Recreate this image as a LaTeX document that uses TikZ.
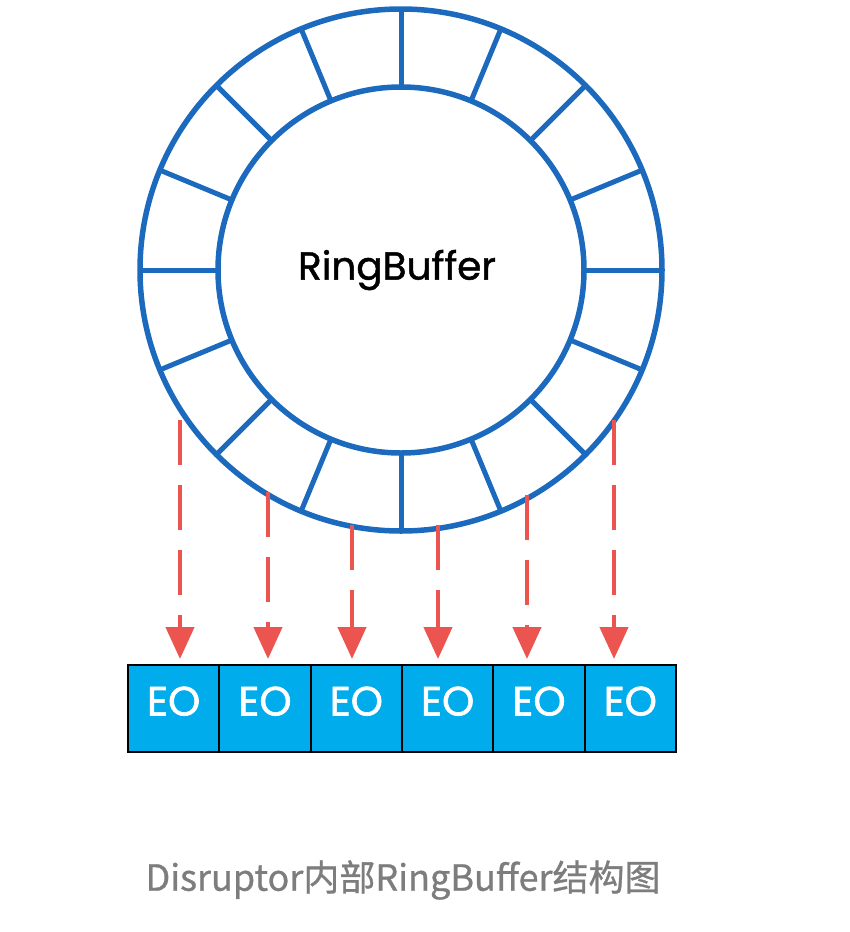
\documentclass[tikz,border=0pt]{standalone}
\usepackage{fontspec}
\setmainfont{Poppins}
\newfontfamily\cjk[FakeBold=0.8]{Noto Sans CJK SC}
\newfontfamily\eofont[FakeBold=1.5]{Poppins}
\newfontfamily\ringfont[FakeBold=1.2]{Poppins}
\usetikzlibrary{arrows.meta,calc}
\definecolor{ringblue}{RGB}{28,106,190}
\definecolor{arrred}{RGB}{236,84,80}
\definecolor{eocyan}{RGB}{0,172,236}
\definecolor{capgray}{RGB}{125,125,125}
\tikzset{
  ringline/.style={draw=ringblue,line width=5.5pt},
  eobox/.style={draw=black,line width=2pt,fill=eocyan,minimum width=91.33pt,minimum height=87pt,inner sep=0pt,text=white,font=\eofont\fontsize{41}{44}\selectfont,text height=14pt,text depth=0pt},
  dasharrow/.style={draw=arrred,line width=4.5pt,dash pattern=on 45pt off 20pt,-{Triangle[length=32pt,width=28pt]},shorten >=5pt}
}
\begin{document}
\begin{tikzpicture}[x=1pt,y=-1pt]
\useasboundingbox (0,0) rectangle (850,932);
\coordinate (c) at (401,270);
\draw[ringline] (c) circle[radius=261];
\draw[ringline] (c) circle[radius=183];
\foreach \k in {0,...,15}{
  \draw[ringline,line width=5pt] ($(c)+({\k*22.5}:183)$) -- ($(c)+({\k*22.5}:261)$);
}
\node[font=\ringfont\fontsize{39}{42}\selectfont,text=black] (title) at (397,270) {RingBuffer};
\foreach \i in {1,...,6}{
  \node[eobox] (eo\i) at ({128+91.33*(\i-0.5)},708.5) {EO};
}
\coordinate (s1) at (180,420);
\coordinate (s2) at (268,492);
\coordinate (s3) at (352,525);
\coordinate (s4) at (438,525);
\coordinate (s5) at (527,495);
\coordinate (s6) at (614,420);
\foreach \i in {1,...,6}{
  \draw[dasharrow] (s\i) -- (s\i |- eo\i.north);
}
\node[font=\cjk\fontsize{36}{40}\selectfont,text=capgray] (cap) at (403,880) {Disruptor内部RingBuffer结构图};
\end{tikzpicture}
\end{document}
